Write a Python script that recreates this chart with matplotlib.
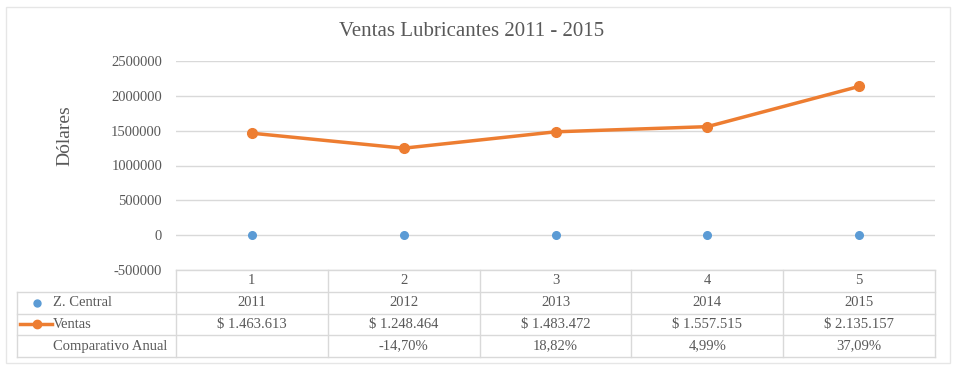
import numpy as np
import matplotlib.pyplot as plt
from matplotlib.patches import Rectangle
from matplotlib.lines import Line2D

plt.rcParams['font.family'] = ['Liberation Serif', 'DejaVu Serif']

# datos
categorias = [1, 2, 3, 4, 5]
z_central = [2011, 2012, 2013, 2014, 2015]
ventas = [1463613, 1248464, 1483472, 1557515, 2135157]
ventas_txt = ['$ 1.463.613', '$ 1.248.464', '$ 1.483.472', '$ 1.557.515', '$ 2.135.157']
comparativo = ['', '-14,70%', '18,82%', '4,99%', '37,09%']
y_ticks = [-500000, 0, 500000, 1000000, 1500000, 2000000, 2500000]

W, H = 955, 365
gris = '#595959'
linea = '#d9d9d9'
azul = '#5B9BD5'
naranja = '#ED7D31'

fig = plt.figure(figsize=(W / 100, H / 100), dpi=100)
fig.patches.append(Rectangle((6 / W, 1 - 363 / H), 944 / W, 356 / H, transform=fig.transFigure,
                             fill=False, edgecolor='#e6e6e6', lw=1))

def caja(x0, y0, x1, y1):
    return [x0 / W, 1 - y1 / H, (x1 - x0) / W, (y1 - y0) / H]

ax = fig.add_axes(caja(176, 61, 935, 270))
ax.set_xlim(0.5, 5.5)
ax.set_ylim(-500000, 2500000)
ax.set_yticks(y_ticks)
ax.set_yticklabels([str(v) for v in y_ticks], color=gris, fontsize=10.5)
ax.set_xticks([])
ax.tick_params(axis='y', length=0, pad=10)
for s in ax.spines.values():
    s.set_visible(False)
ax.grid(axis='y', color=linea, lw=1)
ax.set_axisbelow(True)

ax.plot(categorias, ventas, color=naranja, lw=2.5, marker='o', ms=7, zorder=3)
ax.plot(categorias, z_central, ls='none', color=azul, marker='o', ms=5.5, zorder=3)

fig.text(65 / W, 1 - 136 / H, 'Dólares', rotation=90, ha='center', va='center',
         color=gris, fontsize=14)
fig.text(472 / W, 1 - 31 / H, 'Ventas Lubricantes 2011 - 2015', ha='center', va='center',
         color=gris, fontsize=15)

# tabla de datos
u = 759 / 5
izq = 0.5 - (176 - 17) / u
tb = fig.add_axes(caja(17, 270, 935, 357))
tb.set_xlim(izq, 5.5)
tb.set_ylim(4, 0)
tb.axis('off')

tb.plot([0.5, 5.5], [0, 0], color=linea, lw=1, clip_on=False)
for y in [1, 2, 3, 4]:
    tb.plot([izq, 5.5], [y, y], color=linea, lw=1, clip_on=False)
tb.plot([izq, izq], [1, 4], color=linea, lw=1, clip_on=False)
for i in range(6):
    tb.plot([0.5 + i, 0.5 + i], [0, 4], color=linea, lw=1, clip_on=False)

filas = [[str(c) for c in categorias], [str(v) for v in z_central], ventas_txt, comparativo]
for r, fila in enumerate(filas):
    for c, txt in zip(categorias, fila):
        tb.text(c, r + 0.5, txt, ha='center', va='center', color=gris, fontsize=10.5)

etiquetas = ['Z. Central', 'Ventas', 'Comparativo Anual']
for r, et in enumerate(etiquetas):
    tb.text(izq + (53 - 17) / u, r + 1.5, et, ha='left', va='center', color=gris, fontsize=10.5)

tb.plot([izq + (37 - 17) / u], [1.5], marker='o', color=azul, ms=5, clip_on=False)
tb.add_line(Line2D([izq + (20 - 17) / u, izq + (52 - 17) / u], [2.5, 2.5],
                   color=naranja, lw=2.5, clip_on=False))
tb.plot([izq + (37 - 17) / u], [2.5], marker='o', color=naranja, ms=6, clip_on=False)

fig.savefig('out.png', dpi=100)
